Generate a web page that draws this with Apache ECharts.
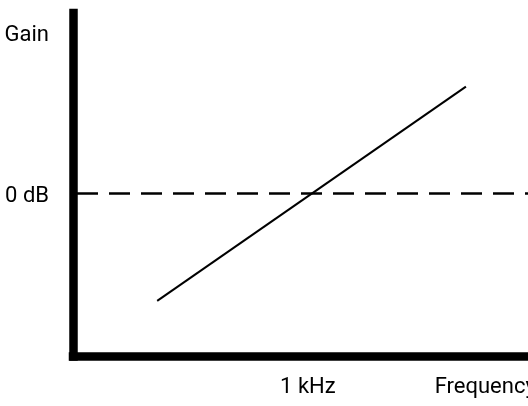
<!DOCTYPE html>
<html lang="en">
<head>
  <meta charset="UTF-8">
  <title>Gain vs Frequency</title>
  <script src="https://cdn.jsdelivr.net/npm/echarts@6/dist/echarts.min.js"></script>
  <style>
    html, body { margin: 0; padding: 0; background: #fff; }
    #chart { width: 528px; height: 406px; }
  </style>
</head>
<body>
<div id="chart"></div>
<script>
  // frequency (Hz) and gain (dB) of the sloped response line
  var freqs = [225, 4400];
  var gains = [-13.2, 13.0];

  // the 0 dB reference level
  var refLevel = 0;

  // tick labels on each axis
  var xTickValues = [960, 5300];
  var xTickLabels = ['1 kHz', 'Frequency'];
  var yTickValues = [-0.4, 19.2];
  var yTickLabels = ['0 dB', 'Gain'];

  var font = 'Roboto, sans-serif';

  var lineData = freqs.map(function(f, i) { return [f, gains[i]]; });

  var chart = echarts.init(document.getElementById('chart'));
  chart.setOption({
    animation: false,
    // labels may run past the edge, like in the original
    grid: { left: 73, right: 0, top: 13, bottom: 49.5, outerBoundsMode: 'none', containLabel: false },
    xAxis: {
      type: 'log',
      min: 100,
      max: 8000,
      axisLine: { show: true, onZero: false, lineStyle: { color: '#000', width: 8.5, cap: 'square' } },
      axisTick: { show: false },
      splitLine: { show: false },
      axisLabel: {
        customValues: xTickValues,
        margin: 20,
        color: '#000',
        fontFamily: font,
        fontSize: 22,
        hideOverlap: false,
        formatter: function(v) {
          var i = xTickValues.indexOf(v);
          return i >= 0 ? xTickLabels[i] : '';
        }
      }
    },
    yAxis: {
      type: 'value',
      min: -20,
      max: 22,
      axisLine: { show: true, onZero: false, lineStyle: { color: '#000', width: 8.5, cap: 'square' } },
      axisTick: { show: false },
      splitLine: { show: false },
      axisLabel: {
        customValues: yTickValues,
        margin: 24,
        color: '#000',
        fontFamily: font,
        fontSize: 22,
        formatter: function(v) {
          var i = yTickValues.indexOf(v);
          return i >= 0 ? yTickLabels[i] : '';
        }
      }
    },
    series: [{
      type: 'line',
      data: lineData,
      symbol: 'none',
      lineStyle: { color: '#000', width: 2 },
      markLine: {
        silent: true,
        symbol: 'none',
        label: { show: false },
        lineStyle: { color: '#000', width: 2.5, type: [21, 11], dashOffset: -4 },
        data: [{ yAxis: refLevel }]
      }
    }]
  });
</script>
</body>
</html>
